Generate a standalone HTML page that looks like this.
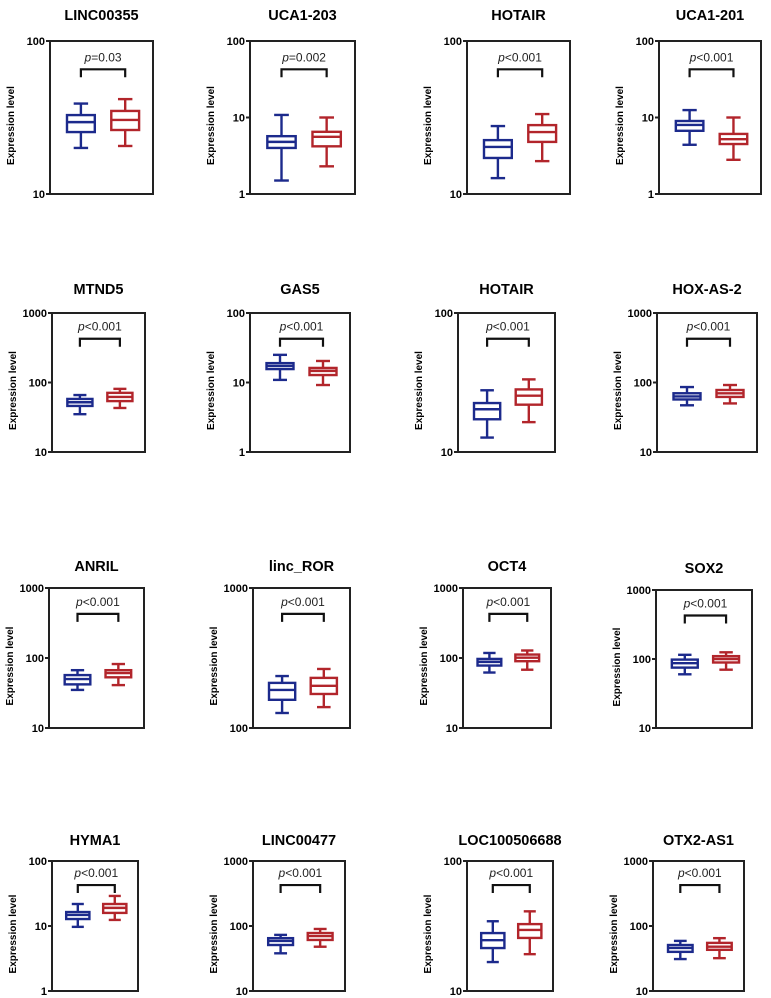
<!DOCTYPE html>
<html><head><meta charset="utf-8">
<style>
html,body{margin:0;padding:0;background:#fff;}
svg{display:block;font-family:"Liberation Sans",Arial,sans-serif;}
</style></head>
<body>
<svg id="fig" width="771" height="998" viewBox="0 0 771 998"></svg>
<script>
const titles=["LINC00355","UCA1-203","HOTAIR","UCA1-201","MTND5","GAS5","HOTAIR","HOX-AS-2","ANRIL","linc_ROR","OCT4","SOX2","HYMA1","LINC00477","LOC100506688","OTX2-AS1"];
const pLabels=["=0.03","=0.002","<0.001","<0.001","<0.001","<0.001","<0.001","<0.001","<0.001","<0.001","<0.001","<0.001","<0.001","<0.001","<0.001","<0.001"];
const yMinVals=[10,1,10,1,10,1,10,10,10,100,10,10,1,10,10,10];
const yMaxVals=[100,100,100,100,1000,100,100,1000,1000,1000,1000,1000,100,1000,100,1000];
// [min,q1,median,q3,max]
const blueStats=[[20,25.4,29.5,32.8,39],[1.5,4.0,4.8,5.7,10.8],[12.7,17.2,20.3,22.5,27.8],[4.4,6.7,8.0,9.0,12.5],
[35,46,52,58,66],[10.9,15.6,17.3,19,25],[12.7,17.2,20.3,22.5,27.8],[47,57,63,70,86],
[35,42,50,57,67],[128,159,187,210,235],[62,78,88,97,118],[60,75,87,98,115],
[9.7,12.8,14.8,16.4,21.8],[38,51,59,65,73],[16.7,21.4,24.6,27.9,34.4],[31,40,46,51,59]];
const redStats=[[20.6,26.2,30.5,34.9,41.7],[2.3,4.2,5.6,6.5,10],[16.4,21.9,25.4,28.2,33.3],[2.8,4.5,5.2,6.1,10],
[43,54,62,71,81],[9.2,12.8,14.7,16.2,20.4],[16.4,21.9,25.4,28.2,33.3],[50,62,70,78,92],
[41,53,61,67,82],[141,175,200,228,264],[68,90,101,112,128],[70,89,100,110,125],
[12.4,15.9,19,21.8,29],[48,61,70,78,90],[19.2,25.6,29.5,32.7,41],[32,43,48,55,65]];

// layout (pixel geometry): [left,right,top,bottom,titleOffset]
const frames=[[50,153,41,194,21],[250,355,41,194,21],[467,570,41,194,21],[659,761,41,194,21],
[52,145,313,452,19],[250,350,313,452,19],[458,555,313,452,19],[657,757,313,452,19],
[49,144,588,728,17],[253,350,588,728,17],[463,551,588,728,17],[656,752,590,728,17],
[52,138,861,991,16],[253,345,861,991,16],[467,553,861,991,16],[653,744,861,991,16]];
const BLUE="#1c2a8c", RED="#b2252b";
const NS="http://www.w3.org/2000/svg";
const svg=document.getElementById("fig");
function mk(tag,attrs,parent){const e=document.createElementNS(NS,tag);for(const k in attrs)e.setAttribute(k,attrs[k]);(parent||svg).appendChild(e);return e;}

titles.forEach((t,i)=>{
  const [L,R,T,B,TO]=frames[i];
  const g=mk("g",{});
  
  
  const lmin=Math.log10(yMinVals[i]), lmax=Math.log10(yMaxVals[i]);
  const y=v=>B-(Math.log10(v)-lmin)/(lmax-lmin)*(B-T);
  const W=R-L, cx=(L+R)/2;
  const tt=mk("text",{x:cx,y:T-TO,"text-anchor":"middle","font-size":"14.5","font-weight":"bold",fill:"#000"},g);
  tt.textContent=t;
  
  
  const fr=mk("rect",{x:L,y:T,width:W,height:B-T,fill:"none",stroke:"#222","stroke-width":"2"},g);
  
  
  for(let d=Math.round(lmin);d<=Math.round(lmax);d++){
    const v=Math.pow(10,d), yy=y(v);
    const tk=mk("line",{x1:L-4,x2:L,y1:yy,y2:yy,stroke:"#222","stroke-width":"2"},g);
    
    
    const tl=mk("text",{x:L-5,y:yy+4,"text-anchor":"end","font-size":"11","font-weight":"bold",fill:"#000"},g);
    tl.textContent=String(v);
    
    
  }
  const yl=mk("text",{x:0,y:0,transform:`translate(${L-36},${(T+B)/2+8}) rotate(-90)`,"text-anchor":"middle","font-size":"10","font-weight":"bold",fill:"#000"},g);
  yl.textContent="Expression level";
  
  
  const xb=L+W*0.30, xr=L+W*0.73, bw=W*0.27, cw=W*0.14;
  [[blueStats[i],xb,BLUE,'blue'],[redStats[i],xr,RED,'red']].forEach(([s,x,c,nm])=>{
    const bg=mk("g",{stroke:c,"stroke-width":"2.4",fill:"#fff"},g);
    
    
    mk("line",{x1:x,x2:x,y1:y(s[4]),y2:y(s[3])},bg);
    mk("line",{x1:x,x2:x,y1:y(s[1]),y2:y(s[0])},bg);
    mk("line",{x1:x-cw/2,x2:x+cw/2,y1:y(s[4]),y2:y(s[4])},bg);
    mk("line",{x1:x-cw/2,x2:x+cw/2,y1:y(s[0]),y2:y(s[0])},bg);
    mk("rect",{x:x-bw/2,y:y(s[3]),width:bw,height:y(s[1])-y(s[3])},bg);
    mk("line",{x1:x-bw/2,x2:x+bw/2,y1:y(s[2]),y2:y(s[2])},bg);
  });
  const h=B-T, by=T+h*0.185;
  const br=mk("path",{d:`M${xb},${by+8} V${by} H${xr} V${by+8}`,fill:"none",stroke:"#111","stroke-width":"2.2"},g);
  
  
  const pt=mk("text",{x:(xb+xr)/2,y:by-8,"text-anchor":"middle","font-size":"12",fill:"#222"},g);
  
  
  const ps=mk("tspan",{"font-style":"italic"},pt); ps.textContent="p";
  const ps2=mk("tspan",{},pt); ps2.textContent=pLabels[i];
});
</script>
</body></html>
